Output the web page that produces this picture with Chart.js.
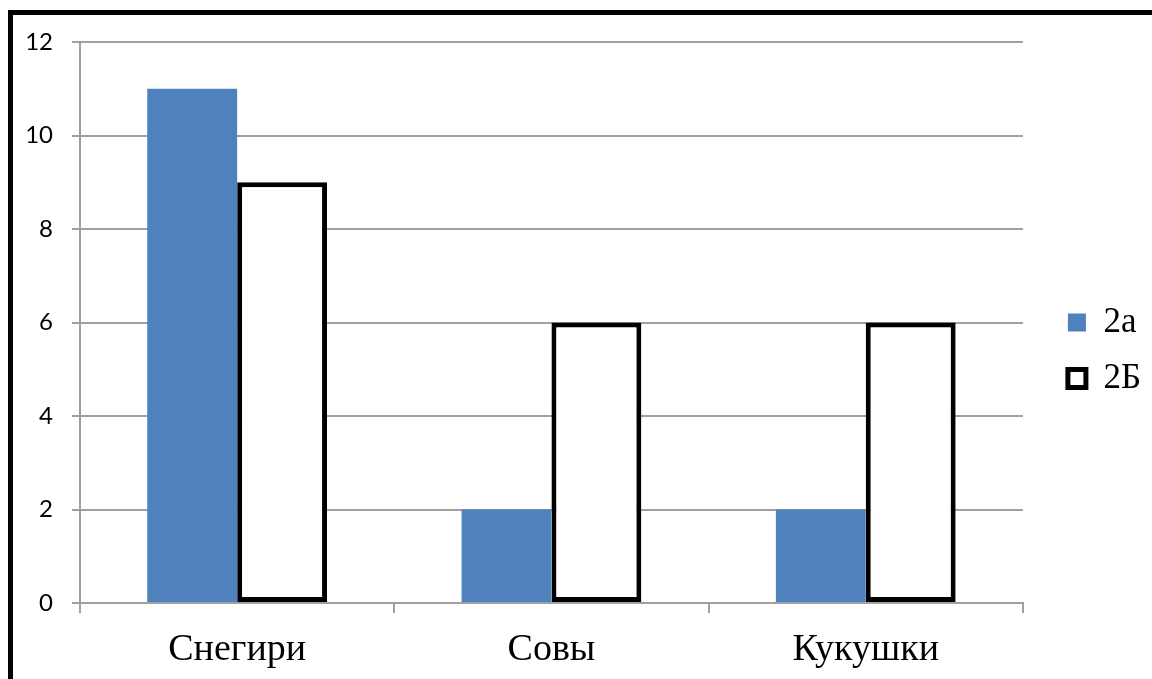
<!DOCTYPE html>
<html>
<head>
<meta charset="utf-8">
<script src="https://cdn.jsdelivr.net/npm/chart.js@4/dist/chart.umd.min.js"></script>
<style>
  html, body { margin: 0; padding: 0; background: #fff; overflow: hidden; }
  #wrap { width: 1152px; height: 679px; position: relative; }
</style>
</head>
<body>
<div id="wrap"><canvas id="c" width="1152" height="679"></canvas></div>
<script>
// Number of pupils per group, by class
const categories = ['Снегири', 'Совы', 'Кукушки'];
const seriesNames = ['2а', '2Б'];
const values2a = [11, 2, 2];
const values2b = [9, 6, 6];
const yTicks = [0, 2, 4, 6, 8, 10, 12];

const gridGray = '#a0a0a0';
const serif = '"Liberation Serif", "Times New Roman", serif';

// White page with a heavy black frame running off the right and bottom edges
const framePlugin = {
  id: 'frame',
  beforeDraw(chart) {
    const ctx = chart.ctx;
    ctx.save();
    ctx.fillStyle = '#fff';
    ctx.fillRect(0, 0, chart.width, chart.height);
    ctx.restore();
  },
  afterDraw(chart) {
    const ctx = chart.ctx;
    ctx.save();
    ctx.strokeStyle = '#000';
    ctx.lineWidth = 5;
    ctx.strokeRect(10.5, 12.5, chart.width + 50, chart.height + 50);
    ctx.restore();
  }
};

// Keep a fixed gap between the plot area and the legend, and lift it slightly
const legendGap = 24;
const legendLift = 10;
const legendShift = {
  id: 'legendShift',
  afterLayout(chart) {
    const lg = chart.legend;
    if (!lg) return;
    const dx = chart.chartArea.right + legendGap - lg.left;
    lg.left += dx;
    lg.right += dx;
    lg.top -= legendLift;
    lg.bottom -= legendLift;
  }
};

new Chart(document.getElementById('c'), {
  type: 'bar',
  data: {
    labels: categories,
    datasets: [
      {
        label: seriesNames[0],
        data: values2a,
        backgroundColor: '#4F81BD',
        borderWidth: 0,
        categoryPercentage: 0.572,
        barPercentage: 1.0
      },
      {
        label: seriesNames[1],
        data: values2b,
        backgroundColor: '#ffffff',
        borderColor: '#000000',
        borderWidth: 5,
        borderSkipped: false,
        categoryPercentage: 0.572,
        barPercentage: 1.0
      }
    ]
  },
  options: {
    responsive: false,
    animation: false,
    layout: { padding: { left: 0, top: 42, right: 25, bottom: 0 } },
    plugins: {
      legend: {
        position: 'right',
        align: 'center',
        labels: {
          boxWidth: 18,
          boxHeight: 18,
          padding: 21,
          color: '#000',
          font: { family: serif, size: 35 }
        }
      },
      tooltip: { enabled: false }
    },
    scales: {
      x: {
        grid: {
          display: true,
          drawOnChartArea: false,
          drawTicks: true,
          tickLength: 10,
          color: gridGray,
          lineWidth: 2,
          offset: true
        },
        border: { display: true, color: gridGray, width: 2 },
        ticks: {
          color: '#000',
          padding: 14,
          font: { family: serif, size: 38 }
        },
        afterFit(s) { s.height = 76; }
      },
      y: {
        min: 0,
        max: 12,
        afterBuildTicks(s) { s.ticks = yTicks.map(v => ({ value: v })); },
        ticks: {
          color: '#000',
          padding: 19,
          font: { family: 'Lato, "Open Sans", sans-serif', size: 24 }
        },
        grid: { color: gridGray, lineWidth: 2, tickLength: 8 },
        border: { color: gridGray, width: 2 },
        afterFit(s) { s.width = 80; }
      }
    }
  },
  plugins: [framePlugin, legendShift]
});
</script>
</body>
</html>
